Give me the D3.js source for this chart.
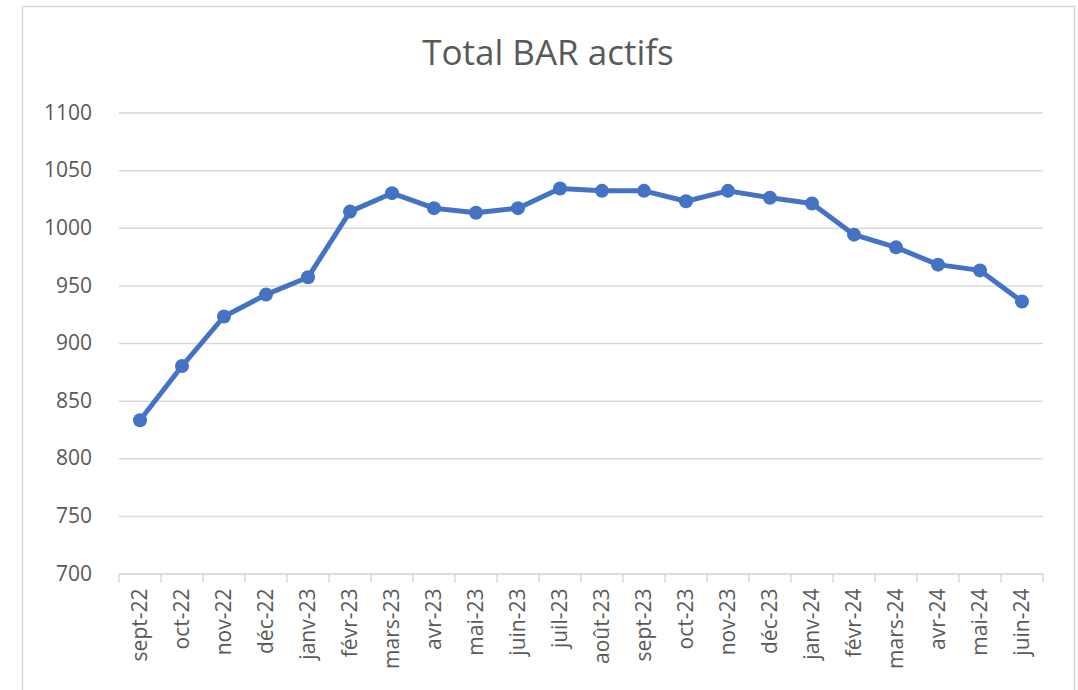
<!DOCTYPE html>
<html>
<head>
<meta charset="utf-8">
<script src="https://cdn.jsdelivr.net/npm/d3@7"></script>
<style>
  html, body { margin: 0; padding: 0; background: #ffffff; }
  svg { display: block; }
  text { font-family: "Open Sans", "Noto Sans", sans-serif; }
</style>
</head>
<body>
<svg id="chart" width="1078" height="690"></svg>
<script>
const categories = ["sept-22","oct-22","nov-22","déc-22","janv-23","févr-23","mars-23","avr-23","mai-23","juin-23","juil-23","août-23","sept-23","oct-23","nov-23","déc-23","janv-24","févr-24","mars-24","avr-24","mai-24","juin-24"];
const values = [833, 880, 923, 942, 957, 1014, 1030, 1017, 1013, 1017, 1034, 1032, 1032, 1023, 1032, 1026, 1021, 994, 983, 968, 963, 936];
const yTicks = [700, 750, 800, 850, 900, 950, 1000, 1050, 1100];
const title = "Total BAR actifs";

(function () {
const svg = d3.select("#chart");
const pLeft = 119, pRight = 1043, pTop = 112.5, pBottom = 573.5;

// outer frame
svg.append("rect").attr("x", 22.5).attr("y", 6.5).attr("width", 1052).attr("height", 720)
  .attr("fill", "#ffffff").attr("stroke", "#d9d9d9").attr("stroke-width", 1.5);

// title
svg.append("text").attr("x", 548).attr("y", 64.5).attr("text-anchor", "middle")
  .attr("font-size", 35).attr("fill", "#595959").text(title);

const x = d3.scaleBand().domain(categories).range([pLeft, pRight]);
const y = d3.scaleLinear().domain([700, 1100]).range([pBottom, pTop]);

// gridlines + y labels
const yAxis = d3.axisLeft(y).tickValues(yTicks).tickSize(-(pRight - pLeft)).tickPadding(27).tickFormat(d3.format("d"));
const gy = svg.append("g").attr("transform", `translate(${pLeft},0)`).call(yAxis);
gy.select(".domain").remove();
gy.selectAll(".tick line").attr("stroke", "#d9d9d9").attr("stroke-width", 1.5);
gy.selectAll(".tick text").attr("font-size", 21).attr("fill", "#595959")
  .attr("font-family", "'Open Sans', sans-serif");

// x axis
const xAxis = d3.axisBottom(x).tickSize(0).tickPadding(0);
const gx = svg.append("g").attr("transform", `translate(0,${pBottom})`).call(xAxis);
gx.select(".domain").attr("stroke", "#d9d9d9").attr("stroke-width", 1.5);
gx.selectAll(".tick line").remove();
gx.selectAll(".tick text")
  .attr("font-size", 21).attr("fill", "#595959")
  .attr("font-family", "'Open Sans', sans-serif")
  .attr("text-anchor", "end")
  .attr("transform", "translate(0,15) rotate(-90)")
  .attr("x", 0).attr("y", 0).attr("dy", "0.35em");

// boundary tick marks
const boundaries = categories.map(c => x(c)).concat([x(categories[categories.length - 1]) + x.bandwidth()]);
svg.append("g").selectAll("line").data(boundaries).join("line")
  .attr("x1", d => d).attr("x2", d => d)
  .attr("y1", pBottom).attr("y2", pBottom + 9)
  .attr("stroke", "#d9d9d9").attr("stroke-width", 1.5);

// line + markers
const cx = d => x(d.c) + x.bandwidth() / 2;
const data = categories.map((c, i) => ({ c, v: values[i] }));
const line = d3.line().x(cx).y(d => y(d.v));
svg.append("path").datum(data).attr("d", line)
  .attr("fill", "none").attr("stroke", "#4472C4").attr("stroke-width", 5)
  .attr("stroke-linejoin", "round").attr("stroke-linecap", "round");

svg.append("g").selectAll("circle").data(data).join("circle")
  .attr("cx", cx).attr("cy", d => y(d.v)).attr("r", 7)
  .attr("fill", "#4472C4");
})();
</script>
</body>
</html>
